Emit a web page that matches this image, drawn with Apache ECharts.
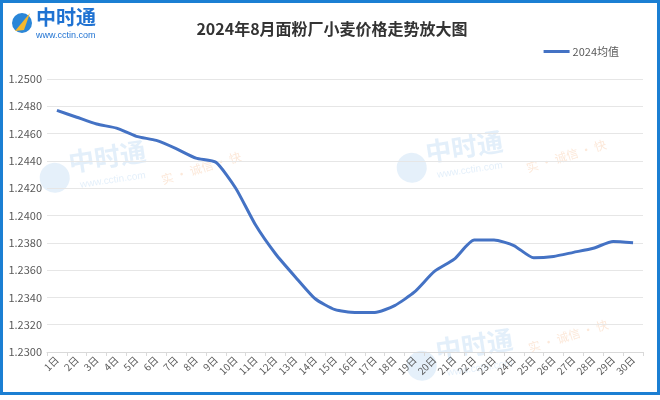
<!DOCTYPE html>
<html>
<head>
<meta charset="utf-8">
<script src="https://cdn.jsdelivr.net/npm/echarts@6/dist/echarts.min.js"></script>
<style>
html, body { margin: 0; padding: 0; background: #fff; }
#frame { position: absolute; left: 0; top: 0; width: 654px; height: 389px; border: 3px solid #1b7fd3; }
#main { position: absolute; left: 0; top: 0; width: 660px; height: 400px; }
</style>
</head>
<body>
<div id="main"></div>
<div id="frame"></div>
<script>
var myChart = echarts.init(document.getElementById('main'));

// 日期
var days = [];
for (var i = 1; i <= 30; i++) { days.push(i + '日'); }

// 2024均值 (元/斤)
var avg2024 = [1.2477, 1.2472, 1.2467, 1.2464, 1.2458, 1.2455, 1.2449, 1.2442, 1.2439, 1.2420,
               1.2393, 1.2372, 1.2355, 1.2339, 1.2331, 1.2329, 1.2329, 1.2334, 1.2344, 1.2359,
               1.2368, 1.2382, 1.2382, 1.2378, 1.2369, 1.2370, 1.2373, 1.2376, 1.2381, 1.2380];

var yMin = 1.23, yMax = 1.25, yStep = 0.002;

var font = '"Noto Sans CJK SC", "Noto Sans", sans-serif';

// 水印
var mark = function (left, top) {
    return { type: 'group', left: left, top: top, rotation: 0.15, silent: true, z: 0, children: [
        { type: 'circle', shape: { cx: 14, cy: 26, r: 15 }, style: { fill: 'rgba(42,134,216,0.12)' } },
        { type: 'text', x: 30, y: 0, style: { text: '中时通', fontSize: 26, fontWeight: 'bold', fill: 'rgba(42,134,216,0.13)', fontFamily: font } },
        { type: 'text', x: 38, y: 32, style: { text: 'www.cctin.com', fontSize: 10, fill: 'rgba(42,134,216,0.13)' } }
    ] };
};
var slogan = function (left, top) {
    return { type: 'text', left: left, top: top, rotation: 0.3, silent: true, z: 0,
        style: { text: '实 · 诚信 · 快', fontSize: 12, fill: 'rgba(240,150,80,0.22)', fontFamily: font } };
};

myChart.setOption({
    textStyle: { fontFamily: font },
    title: {
        text: '2024年8月面粉厂小麦价格走势放大图',
        left: 327,
        textAlign: 'center',
        top: 16,
        textStyle: { fontSize: 16, fontWeight: 'bold', color: '#333', fontFamily: font }
    },
    legend: {
        data: ['2024均值'],
        right: 36,
        top: 41,
        itemWidth: 26,
        itemHeight: 3,
        icon: 'rect',
        itemGap: 4,
        textStyle: { fontSize: 11, color: '#595959', padding: [0, 0, 0, -2] }
    },
    grid: { left: 47, right: 17, top: 79, bottom: 48 },
    xAxis: {
        type: 'category',
        data: days,
        boundaryGap: true,
        axisLine: { lineStyle: { color: '#d9d9d9' } },
        axisTick: { show: true, length: 4, lineStyle: { color: '#d9d9d9' } },
        axisLabel: { rotate: 45, fontSize: 10, color: '#595959', interval: 0, margin: 6 }
    },
    yAxis: {
        type: 'value',
        min: yMin,
        max: yMax,
        interval: yStep,
        axisLine: { show: false },
        axisTick: { show: false },
        axisLabel: {
            fontSize: 11, color: '#595959', margin: 5,
            formatter: function (v) { return v.toFixed(4); }
        },
        splitLine: { lineStyle: { color: '#e6e6e6' } }
    },
    series: [{
        name: '2024均值',
        type: 'line',
        data: avg2024,
        smooth: 0.2,
        symbol: 'none',
        lineStyle: { width: 3, color: '#4472c4' },
        itemStyle: { color: '#4472c4' },
        z: 3
    }],
    graphic: [
        // logo
        { type: 'circle', shape: { cx: 22, cy: 23, r: 10 }, style: { fill: '#2a86d8' } },
        { type: 'polygon', shape: { points: [[15, 31], [30, 13], [24, 30]] }, style: { fill: '#f5b82e' } },
        { type: 'text', left: 36, top: 7, style: { text: '中时通', fontSize: 20, fontWeight: 'bold', fill: '#1f72d2', fontFamily: font } },
        { type: 'text', left: 36, top: 31, style: { text: 'www.cctin.com', fontSize: 9, fill: '#1f72d2', fontFamily: 'Liberation Sans, sans-serif' } },
        mark(36, 138),
        mark(393, 128),
        mark(403, 326),
        slogan(160, 150),
        slogan(525, 138),
        slogan(527, 318)
    ]
});
</script>
</body>
</html>
